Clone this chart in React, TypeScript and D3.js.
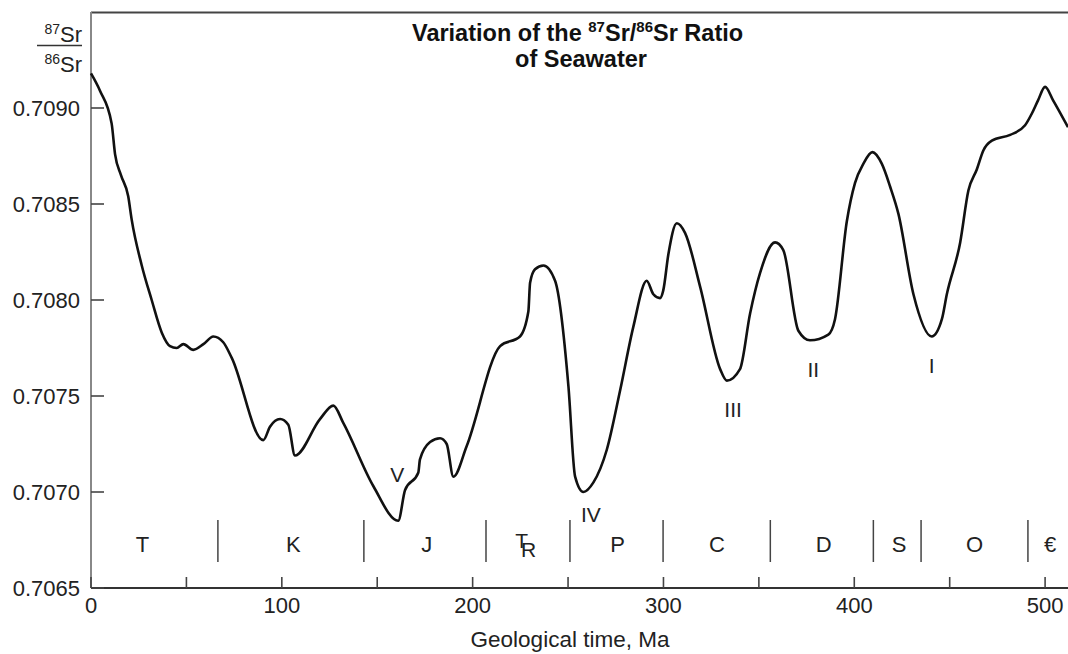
import React, { useEffect, useRef } from "react";
import * as d3 from "d3";

const ages = [0, 4.7, 10.8, 12.6, 15.7, 19.5, 21.3, 26.6, 31.8, 37.1, 41.4, 44.9, 48.4, 53.6, 58.9, 64.1, 69.3, 73.7,
  90.3, 93.8, 99.1, 103.4, 106.9, 120, 127, 132.2, 148, 161, 164.6, 171.5, 172.4, 177.7, 182.9, 186.4, 189.9,
  196.9, 214.4, 224.8, 229.2, 230.1, 232.7, 237.1, 243.2, 250.2, 253.7, 258, 263.3, 270.3, 277.3, 284.2,
  291.2, 294.7, 298.2, 299.9, 302.6, 307, 311.3, 319.2, 329.7, 333.2, 340.1, 345.4, 350.6, 358.5, 362.8,
  370.7, 376.8, 386.4, 389.9, 396.1, 400.4, 404.8, 409.5, 414.4, 418.8, 423.1, 431, 440.6, 445.9, 448.5,
  455.5, 459.8, 464.2, 467.7, 472.1, 481.7, 489.5, 493, 496.3, 500, 504.2, 512];
const ratios = [0.70918, 0.70909, 0.70892, 0.70876, 0.70865, 0.70854, 0.70842, 0.70818, 0.708, 0.70783, 0.70776, 0.70775,
  0.70777, 0.70774, 0.70777, 0.70781, 0.70778, 0.7077,
  0.70727, 0.70734, 0.70738, 0.70735, 0.70719, 0.70738, 0.70745, 0.70736, 0.70703, 0.70685, 0.70701, 0.7071,
  0.70717, 0.70726, 0.70728, 0.70725, 0.70708,
  0.70724, 0.70776, 0.70781, 0.70794, 0.70809, 0.70816, 0.70818, 0.7081, 0.70755, 0.70708, 0.707, 0.70705,
  0.70722, 0.70753, 0.70786,
  0.7081, 0.70803, 0.70801, 0.70805, 0.70824, 0.7084, 0.70835, 0.70807, 0.70764, 0.70758, 0.70764, 0.70793,
  0.70814, 0.7083, 0.70826,
  0.70784, 0.70779, 0.70782, 0.7079, 0.70841, 0.70861, 0.70871, 0.70877, 0.70871, 0.70859, 0.70845, 0.70803,
  0.70781, 0.7079, 0.70803,
  0.7083, 0.70857, 0.70868, 0.70878, 0.70883, 0.70886, 0.70891, 0.70897, 0.70904, 0.70911, 0.70904, 0.7089];

const yTicks = [0.7065, 0.707, 0.7075, 0.708, 0.7085, 0.709];
const xTicks = [0, 50, 100, 150, 200, 250, 300, 350, 400, 450, 500];
const xTickLabels = [0, 100, 200, 300, 400, 500];
const periodBoundaries = [66.5, 143, 207, 251, 299.8, 356, 410, 435, 491];
const periodNames = ["T", "K", "J", "P", "C", "D", "S", "O", "\u20AC"];
const periodCenters = [27, 106, 176, 276, 328, 384, 423.5, 463, 502.6];
const triassicCenter = 227;
const eventNames = ["V", "IV", "III", "II", "I"];
const eventAges = [160.5, 262, 336.5, 378.5, 440.5];
const eventRatios = [0.70705, 0.706845, 0.70739, 0.7076, 0.70762];

const W = 1068, H = 654;
const FONT = "'Liberation Sans', Arial, Helvetica, sans-serif";

export default function App() {
  const ref = useRef<SVGSVGElement>(null);
  useEffect(() => {
    const svg = d3.select(ref.current);
    svg.selectAll("*").remove();
    const x = d3.scaleLinear().domain([0, 512]).range([91, 1068]);
    const y = d3.scaleLinear().domain([0.7065, 0.7095]).range([588, 12]);
    const g = svg.append("g").attr("font-family", FONT);

    // frame
    g.append("line").attr("x1", x(0)).attr("x2", W).attr("y1", y(0.7095) + 0.5).attr("y2", y(0.7095) + 0.5)
      .attr("stroke", "#444").attr("stroke-width", 2);
    g.append("line").attr("x1", x(0)).attr("x2", x(0)).attr("y1", y(0.7095)).attr("y2", y(0.7065))
      .attr("stroke", "#888").attr("stroke-width", 2);
    g.append("line").attr("x1", x(0)).attr("x2", W).attr("y1", y(0.7065)).attr("y2", y(0.7065))
      .attr("stroke", "#333").attr("stroke-width", 2);

    // y ticks
    yTicks.forEach((t) => {
      g.append("line").attr("x1", x(0)).attr("x2", x(0) + 13).attr("y1", y(t)).attr("y2", y(t))
        .attr("stroke", "#444").attr("stroke-width", 1.6);
      g.append("text").attr("x", 80).attr("y", y(t) + 7.5).attr("text-anchor", "end")
        .attr("font-size", 22).attr("fill", "#222").text(t.toFixed(4));
    });
    // x ticks
    xTicks.forEach((t) => {
      g.append("line").attr("x1", x(t)).attr("x2", x(t)).attr("y1", y(0.7065)).attr("y2", y(0.7065) - 11)
        .attr("stroke", "#444").attr("stroke-width", 1.6);
    });
    xTickLabels.forEach((t) => {
      g.append("text").attr("x", x(t)).attr("y", 613).attr("text-anchor", "middle")
        .attr("font-size", 22).attr("fill", "#222").text(String(t));
    });
    g.append("text").attr("x", 570).attr("y", 647).attr("text-anchor", "middle")
      .attr("font-size", 22.5).attr("fill", "#222").text("Geological time, Ma");

    // periods
    periodBoundaries.forEach((b) => {
      g.append("line").attr("x1", x(b)).attr("x2", x(b)).attr("y1", 520).attr("y2", 562)
        .attr("stroke", "#444").attr("stroke-width", 1.5);
    });
    periodNames.forEach((n, i) => {
      g.append("text").attr("x", x(periodCenters[i])).attr("y", 552).attr("text-anchor", "middle")
        .attr("font-size", 22).attr("fill", "#222").text(n);
    });
    const tr = g.append("text").attr("x", x(triassicCenter) - 9).attr("y", 548)
      .attr("font-size", 21).attr("fill", "#222");
    tr.append("tspan").text("T");
    tr.append("tspan").attr("dx", -7).attr("dy", 9).text("R");

    // curve
    const pts = ages.map((a, i) => [a, ratios[i]] as [number, number]);
    const line = d3.line<[number, number]>().x((d) => x(d[0])).y((d) => y(d[1])).curve(d3.curveMonotoneX);
    g.append("path").attr("d", line(pts) as string).attr("fill", "none").attr("stroke", "#111")
      .attr("stroke-width", 2.6).attr("stroke-linejoin", "round");

    // event labels
    eventNames.forEach((n, i) => {
      g.append("text").attr("x", x(eventAges[i])).attr("y", y(eventRatios[i])).attr("text-anchor", "middle")
        .attr("font-size", 21).attr("fill", "#222").text(n);
    });

    // title
    const t1 = g.append("text").attr("x", 412).attr("y", 41).attr("font-size", 23.5).attr("font-weight", "bold").attr("fill", "#111");
    t1.append("tspan").text("Variation of the ");
    t1.append("tspan").attr("font-size", 15).attr("dy", -9).text("87");
    t1.append("tspan").attr("dy", 9).text("Sr/");
    t1.append("tspan").attr("font-size", 15).attr("dy", -9).text("86");
    t1.append("tspan").attr("dy", 9).text("Sr Ratio");
    g.append("text").attr("x", 581).attr("y", 67).attr("text-anchor", "middle").attr("font-size", 23.5)
      .attr("font-weight", "bold").attr("fill", "#111").text("of Seawater");

    // y-axis fraction label
    const num = g.append("text").attr("x", 82).attr("y", 42).attr("text-anchor", "end").attr("font-size", 22).attr("fill", "#222");
    num.append("tspan").attr("font-size", 14).attr("dy", -8).text("87");
    num.append("tspan").attr("dy", 8).text("Sr");
    g.append("line").attr("x1", 37).attr("x2", 82).attr("y1", 45.5).attr("y2", 45.5).attr("stroke", "#333").attr("stroke-width", 1.3);
    const den = g.append("text").attr("x", 82).attr("y", 72).attr("text-anchor", "end").attr("font-size", 22).attr("fill", "#222");
    den.append("tspan").attr("font-size", 14).attr("dy", -8).text("86");
    den.append("tspan").attr("dy", 8).text("Sr");
  }, []);
  return (
    <svg ref={ref} width={W} height={H} style={{ position: "absolute", left: 0, top: 0, background: "#fff" }} />
  );
}
